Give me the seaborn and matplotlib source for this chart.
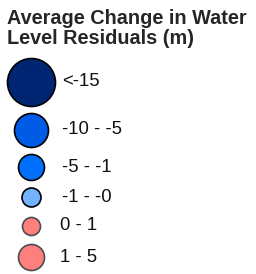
import matplotlib
matplotlib.use("Agg")
import matplotlib.pyplot as plt
import seaborn as sns
import pandas as pd

# Legend classes
labels = ['<-15', '-10 - -5', '-5 - -1', '-1 - -0', '0 - 1', '1 - 5']
colors = ['#002673', '#005ce6', '#0070ff', '#73b2ff', '#ff7f7f', '#ff7f7f']
edges = ['#000000', '#000000', '#000000', '#000000', '#4d4d4d', '#4d4d4d']

# layout (pixels)
row_y = [82, 130, 167, 197, 226, 257]
radius = [24, 17, 13, 9.5, 9, 13]
text_x = [62, 62, 62, 62, 60, 60]

sns.set_style('white')
plt.rcParams['font.family'] = ['Liberation Sans', 'DejaVu Sans']

fig = plt.figure(figsize=(2.56, 2.74), dpi=100)
ax = fig.add_axes([0, 0, 1, 1])
ax.set_xlim(0, 256)
ax.set_ylim(274, 0)
ax.axis('off')

df = pd.DataFrame({'label': labels, 'y': row_y, 'x': 31,
                   's': [(2 * r * 0.72) ** 2 for r in radius]})
for i, row in df.iterrows():
    sns.scatterplot(x=[row['x']], y=[row['y']], s=row['s'], color=colors[i],
                    edgecolor=edges[i], linewidth=1.2, ax=ax, legend=False)
    ax.text(text_x[i], row['y'], row['label'], fontsize=13.3, va='center',
            ha='left', color='#111111')

ax.text(7, 9.5, 'Average Change in Water\nLevel Residuals (m)', fontsize=14.3,
        fontweight='bold', va='top', ha='left', linespacing=1.0)

fig.savefig('out.png', dpi=100)
